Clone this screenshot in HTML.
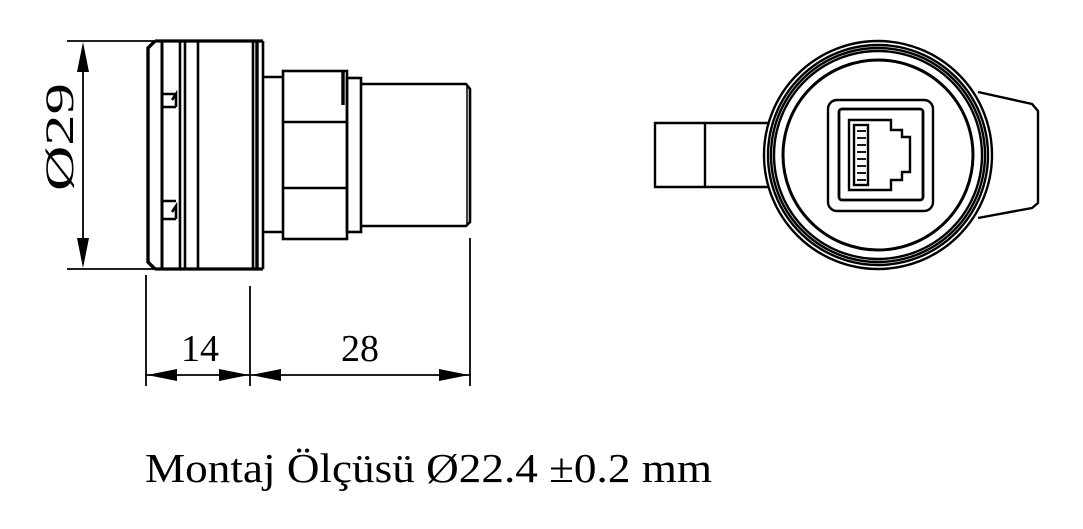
<!DOCTYPE html>
<html><head><meta charset="utf-8"><style>
html,body{margin:0;padding:0;background:#fff;}
svg{display:block;}
text{font-family:"Liberation Serif",serif;fill:#000;}
</style></head><body>
<svg width="1083" height="529" viewBox="0 0 1083 529" xmlns="http://www.w3.org/2000/svg">
<g fill="none" stroke="#000" stroke-width="2.6" stroke-linejoin="miter">
<!-- dimension Ø29 -->
<line x1="67" y1="41" x2="160" y2="41" stroke-width="1.8"/>
<line x1="67" y1="269" x2="160" y2="269" stroke-width="1.8"/>
<line x1="83" y1="70" x2="83" y2="240" stroke-width="1.8"/>
<!-- flange -->
<path d="M155,41 L148,48 L148,262 L155,269" stroke-width="3.4"/>
<line x1="155" y1="41" x2="263" y2="41" stroke-width="3.2"/>
<line x1="155" y1="269" x2="263" y2="269" stroke-width="3.2"/>
<line x1="162" y1="42" x2="162" y2="268" stroke-width="3"/>
<line x1="180" y1="42" x2="180" y2="268"/>
<line x1="185" y1="42" x2="185" y2="268"/>
<line x1="198" y1="42" x2="198" y2="268"/>
<line x1="253" y1="42" x2="253" y2="268"/>
<line x1="257" y1="42" x2="257" y2="268" stroke-width="3.4"/>
<line x1="263" y1="41" x2="263" y2="269"/>
<!-- tabs -->
<path d="M162,94 L176,94 M162,107 L176,107 M172,100 L176,94 L176,107"/>
<path d="M162,201 L176,201 M162,219 L176,219 M172,212 L176,206 L176,219"/>
<!-- neck -->
<path d="M263,77 L283,77 M263,232 L283,232"/>
<!-- nut -->
<rect x="283" y="71" width="64" height="168"/>
<line x1="284" y1="122" x2="346" y2="122"/>
<line x1="284" y1="188" x2="346" y2="188"/>
<line x1="343" y1="72" x2="343" y2="105" stroke-width="3.4"/>
<!-- ring -->
<rect x="347" y="78" width="14" height="154"/>
<!-- tube -->
<path d="M361,84 L466,84 L470,89 L470,222 L466,226 L361,226"/>
<line x1="467" y1="86" x2="467" y2="224" stroke-width="1.5"/>
<!-- bottom dims -->
<line x1="146" y1="275" x2="146" y2="386" stroke-width="1.8"/>
<line x1="250" y1="286" x2="250" y2="386" stroke-width="1.8"/>
<line x1="470" y1="238" x2="470" y2="386" stroke-width="1.8"/>
<line x1="146" y1="375" x2="470" y2="375" stroke-width="1.8"/>
</g>
<g fill="#000">
<polygon points="83,42 77,72 89,72"/>
<polygon points="83,268 77,238 89,238"/>
<polygon points="147,375 177,369 177,381"/>
<polygon points="249,375 219,369 219,381"/>
<polygon points="251,375 281,369 281,381"/>
<polygon points="469,375 439,369 439,381"/>
</g>
<text x="0" y="0" font-size="40" textLength="108" lengthAdjust="spacingAndGlyphs" transform="translate(73,191) rotate(-90)">Ø29</text>
<text x="200" y="361" font-size="38" text-anchor="middle">14</text>
<text x="360" y="361" font-size="38" text-anchor="middle">28</text>
<text x="145" y="482" font-size="41" textLength="567" lengthAdjust="spacingAndGlyphs">Montaj Ölçüsü Ø22.4 ±0.2 mm</text>

<!-- right view -->
<g fill="none" stroke="#000" stroke-width="2.4">
<path d="M770,123 L655,123 L655,187 L770,187"/>
<line x1="705" y1="123" x2="705" y2="187"/>
<path d="M978,92 L1032,104 L1038,111 L1038,203 L1032,208 L978,218"/>
<circle cx="878" cy="155" r="114" fill="#fff"/>
<circle cx="878" cy="155" r="110"/>
<circle cx="878" cy="155" r="107"/>
<circle cx="878" cy="155" r="104"/>
<circle cx="878" cy="155" r="95" stroke-width="3"/>
<rect x="828" y="100" width="105" height="111" rx="9"/>
<rect x="839" y="109" width="84" height="91" rx="3" stroke-width="2.8"/>
<path d="M849,120 L891,120 L891,130 L902,130 L902,137 L910,137 L910,172 L902,172 L902,180 L891,180 L891,190 L849,190 Z"/>
<rect x="854" y="125" width="14" height="60"/>
<g stroke-width="1.8">
<line x1="857" y1="131" x2="866" y2="131"/>
<line x1="857" y1="138" x2="866" y2="138"/>
<line x1="857" y1="145" x2="866" y2="145"/>
<line x1="857" y1="152" x2="866" y2="152"/>
<line x1="857" y1="159" x2="866" y2="159"/>
<line x1="857" y1="166" x2="866" y2="166"/>
<line x1="857" y1="173" x2="866" y2="173"/>
<line x1="857" y1="180" x2="866" y2="180"/>
</g>
</g>
</svg>
</body></html>
